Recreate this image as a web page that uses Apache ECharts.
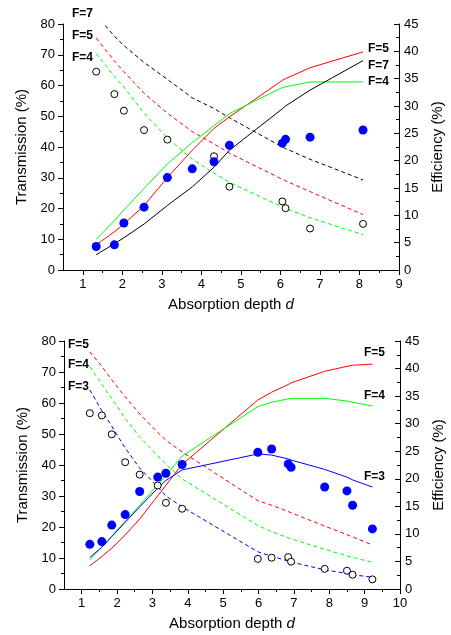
<!DOCTYPE html>
<html><head><meta charset="utf-8">
<script src="https://cdn.jsdelivr.net/npm/echarts@6/dist/echarts.min.js"></script>
<style>html,body{margin:0;padding:0;background:#fff}#c{width:451px;height:635px}</style>
</head><body><div id="c"></div>
<script>
// ---------- Top panel (x = absorption depth d) ----------
const topX = [1.34, 1.80, 2.04, 2.55, 3.14, 3.77, 4.32, 4.71, 6.05, 6.13, 6.75, 8.09];
const topEffMeasured = [4.3, 4.6, 8.6, 11.5, 16.9, 18.5, 19.8, 22.8, 23.2, 23.9, 24.3, 25.6];
const topTransMeasured = [64.5, 57.2, 51.8, 45.5, 42.4, null, 37.0, 27.1, 22.3, 20.1, 13.5, 15.0];
const topEffF5 = [4.6, 7.0, 8.4, 11.8, 16.9, 21.9, 25.9, 28.0, 34.7, 35.0, 37.0, 39.9];
const topEffF4 = [5.6, 9.0, 11.0, 14.9, 19.4, 23.3, 26.4, 28.6, 33.4, 33.5, 34.4, 34.4];
const topEffF7 = [2.8, 4.8, 5.9, 8.4, 11.8, 15.2, 18.8, 21.9, 29.5, 30.0, 32.9, 38.3];
const topTransF7 = [83, 76, 73, 67.5, 62, 56, 52.5, 49.5, 40, 39.5, 36, 29.3];
const topTransF5 = [75.4, 68, 64.5, 57.5, 51, 45, 41, 38, 29.5, 29, 25.5, 18];
const topTransF4 = [70.4, 63, 59.5, 51, 43, 36, 31.5, 28.5, 20.5, 20, 17, 11.5];

// ---------- Bottom panel ----------
const botX = [1.23, 1.57, 1.85, 2.23, 2.64, 3.15, 3.38, 3.84, 5.98, 6.37, 6.84, 6.92, 7.87, 8.50, 8.66, 9.22];
const botEffMeasured = [8.1, 8.6, 11.6, 13.5, 17.7, 20.3, 21.0, 22.6, 24.8, 25.4, 22.7, 22.1, 18.5, 17.8, 15.2, 10.9];
const botTransMeasured = [56.7, 56.0, 49.9, 40.9, 36.9, 33.4, 27.8, 25.9, 9.7, 10.1, 10.3, 8.8, 6.5, 5.9, 4.6, 3.1];
const botEffF5 = [4.2, 5.9, 7.4, 9.8, 12.7, 16.9, 18.8, 22.6, 34.3, 35.7, 37.1, 37.4, 39.5, 40.4, 40.6, 40.8];
const botEffF4 = [5.3, 7.6, 9.6, 12.3, 15.2, 18.9, 20.6, 24.1, 33.1, 33.9, 34.5, 34.6, 34.6, 34.1, 33.9, 33.2];
const botEffF3 = [5.7, 7.6, 9.5, 12.1, 14.9, 18.3, 19.7, 21.6, 24.5, 24.3, 23.6, 23.4, 21.7, 20.3, 19.8, 18.5];
const botTransF5 = [76.5, 71.8, 67.5, 62, 56.5, 50.5, 48, 44.2, 28.5, 27, 25, 24.6, 20.3, 17.5, 16.8, 14.2];
const botTransF4 = [71.7, 66, 61.5, 55, 49, 43, 40.3, 35.5, 20.5, 18.5, 16.5, 16.2, 12.8, 10.7, 10.2, 8.6];
const botTransF3 = [64.2, 57.5, 52.5, 45.5, 39, 33, 30, 26.5, 12.0, 10.6, 9.0, 8.7, 6.2, 5.0, 4.6, 3.8];

// ---------- Axis ticks ----------
const topXTicks = [1, 2, 3, 4, 5, 6, 7, 8, 9];
const topXMinor = [1.5, 2.5, 3.5, 4.5, 5.5, 6.5, 7.5, 8.5];
const botXTicks = [1, 2, 3, 4, 5, 6, 7, 8, 9, 10];
const botXMinor = [1.5, 2.5, 3.5, 4.5, 5.5, 6.5, 7.5, 8.5, 9.5];

const FONT = 'Liberation Sans, Arial, sans-serif';
const pair = (xs, ys) => xs.map((x, i) => ys[i] == null ? null : [x, ys[i]]).filter(p => p);

function xAxes(g, max, ticks, minor) {
  return [{
    gridIndex: g, type: 'value', min: 0.5, max: max, position: 'bottom',
    axisLine: { show: true, onZero: false, lineStyle: { color: '#000', width: 1 } },
    axisTick: { show: true, customValues: ticks, length: 5, lineStyle: { color: '#000' } },
    axisLabel: { customValues: ticks, color: '#000', fontSize: 13, fontFamily: FONT, margin: 8 },
    splitLine: { show: false },
    name: '{n|Absorption depth }{i|d}', nameLocation: 'middle', nameGap: 27,
    nameTextStyle: { rich: { n: { fontSize: 15, fontFamily: FONT, color: '#000' }, i: { fontSize: 15, fontFamily: FONT, fontStyle: 'italic', color: '#000' } } }
  }, {
    gridIndex: g, type: 'value', min: 0.5, max: max, position: 'bottom',
    axisLine: { show: false, onZero: false },
    axisTick: { show: true, customValues: minor, length: 3, lineStyle: { color: '#000' } },
    axisLabel: { show: false }, splitLine: { show: false }
  }];
}
function yAxes(g) {
  return [{
    gridIndex: g, type: 'value', min: 0, max: 80, interval: 10, position: 'left',
    axisLine: { show: true, lineStyle: { color: '#000', width: 1 } },
    axisTick: { show: true, length: 5, lineStyle: { color: '#000' } },
    minorTick: { show: true, splitNumber: 2, length: 3, lineStyle: { color: '#000' } },
    axisLabel: { color: '#000', fontSize: 13, fontFamily: FONT, margin: 8 },
    splitLine: { show: false },
    name: 'Transmission (%)', nameLocation: 'middle', nameGap: 33, nameRotate: 90,
    nameTextStyle: { fontSize: 15, fontFamily: FONT, color: '#000' }
  }, {
    gridIndex: g, type: 'value', min: 0, max: 45, interval: 5, position: 'right',
    axisLine: { show: true, lineStyle: { color: '#000', width: 1 } },
    axisTick: { show: true, inside: true, length: 5, lineStyle: { color: '#000' } },
    minorTick: { show: true, splitNumber: 2, length: 3, lineStyle: { color: '#000' } },
    axisLabel: { color: '#000', fontSize: 13, fontFamily: FONT, margin: 5 },
    splitLine: { show: false },
    name: 'Efficiency (%)', nameLocation: 'middle', nameGap: 31, nameRotate: 90,
    nameTextStyle: { fontSize: 15, fontFamily: FONT, color: '#000' }
  }];
}

function line(xi, yi, xs, ys, color, dashed) {
  return { type: 'line', xAxisIndex: xi, yAxisIndex: yi, data: pair(xs, ys), showSymbol: false, symbol: 'none',
    lineStyle: { color: color, width: 1, type: dashed ? [4, 3] : 'solid' }, clip: true, z: 2, silent: true };
}
function filled(xi, yi, xs, ys) {
  return { type: 'scatter', xAxisIndex: xi, yAxisIndex: yi, data: pair(xs, ys), symbol: 'circle', symbolSize: 9,
    itemStyle: { color: '#0000ff', opacity: 1 }, z: 5, silent: true };
}
function open(xi, yi, xs, ys) {
  return { type: 'scatter', xAxisIndex: xi, yAxisIndex: yi, data: pair(xs, ys), symbol: 'circle', symbolSize: 7,
    itemStyle: { color: '#fff', borderColor: '#000', borderWidth: 1, opacity: 1 }, z: 5, silent: true };
}

const RED = '#ff0000', GREEN = '#00ff00', BLUE = '#0000ff', BLACK = '#000000';

const series = [
  // top: x axis 0, y axes 0 (T) / 1 (Eff)
  line(0, 0, topX, topTransF7, BLACK, true),
  line(0, 0, topX, topTransF5, RED, true),
  line(0, 0, topX, topTransF4, GREEN, true),
  line(0, 1, topX, topEffF5, RED, false),
  line(0, 1, topX, topEffF4, GREEN, false),
  line(0, 1, topX, topEffF7, BLACK, false),
  open(0, 0, topX, topTransMeasured),
  filled(0, 1, topX, topEffMeasured),
  // bottom: x axis 2, y axes 2 / 3
  line(2, 2, botX, botTransF5, RED, true),
  line(2, 2, botX, botTransF4, GREEN, true),
  line(2, 2, botX, botTransF3, BLUE, true),
  line(2, 3, botX, botEffF5, RED, false),
  line(2, 3, botX, botEffF4, GREEN, false),
  line(2, 3, botX, botEffF3, BLUE, false),
  open(2, 2, botX, botTransMeasured),
  filled(2, 3, botX, botEffMeasured)
];

const lab = (text, x, y) => ({ type: 'text', x: x, y: y, z: 100,
  style: { text: text, font: 'bold 12px ' + FONT, fill: '#000', textVerticalAlign: 'middle', textAlign: 'left' } });

const option = {
  animation: false,
  backgroundColor: '#fff',
  grid: [
    { left: 63, top: 24, width: 336, height: 246, containLabel: false, outerBoundsMode: 'none' },
    { left: 64, top: 341, width: 336, height: 248, containLabel: false, outerBoundsMode: 'none' }
  ],
  xAxis: [...xAxes(0, 9, topXTicks, topXMinor), ...xAxes(1, 10, botXTicks, botXMinor)],
  yAxis: [...yAxes(0), ...yAxes(1)],
  series: series,
  graphic: [
    lab('F=7', 72, 14), lab('F=5', 72, 36), lab('F=4', 72, 58),
    lab('F=5', 368, 49), lab('F=7', 368, 66), lab('F=4', 368, 82),
    lab('F=5', 68, 345), lab('F=4', 68, 365), lab('F=3', 68, 387),
    lab('F=5', 364, 353), lab('F=4', 364, 396), lab('F=3', 364, 477)
  ]
};
const chart = echarts.init(document.getElementById('c'), null, { renderer: 'canvas' });
chart.setOption(option);
</script></body></html>
